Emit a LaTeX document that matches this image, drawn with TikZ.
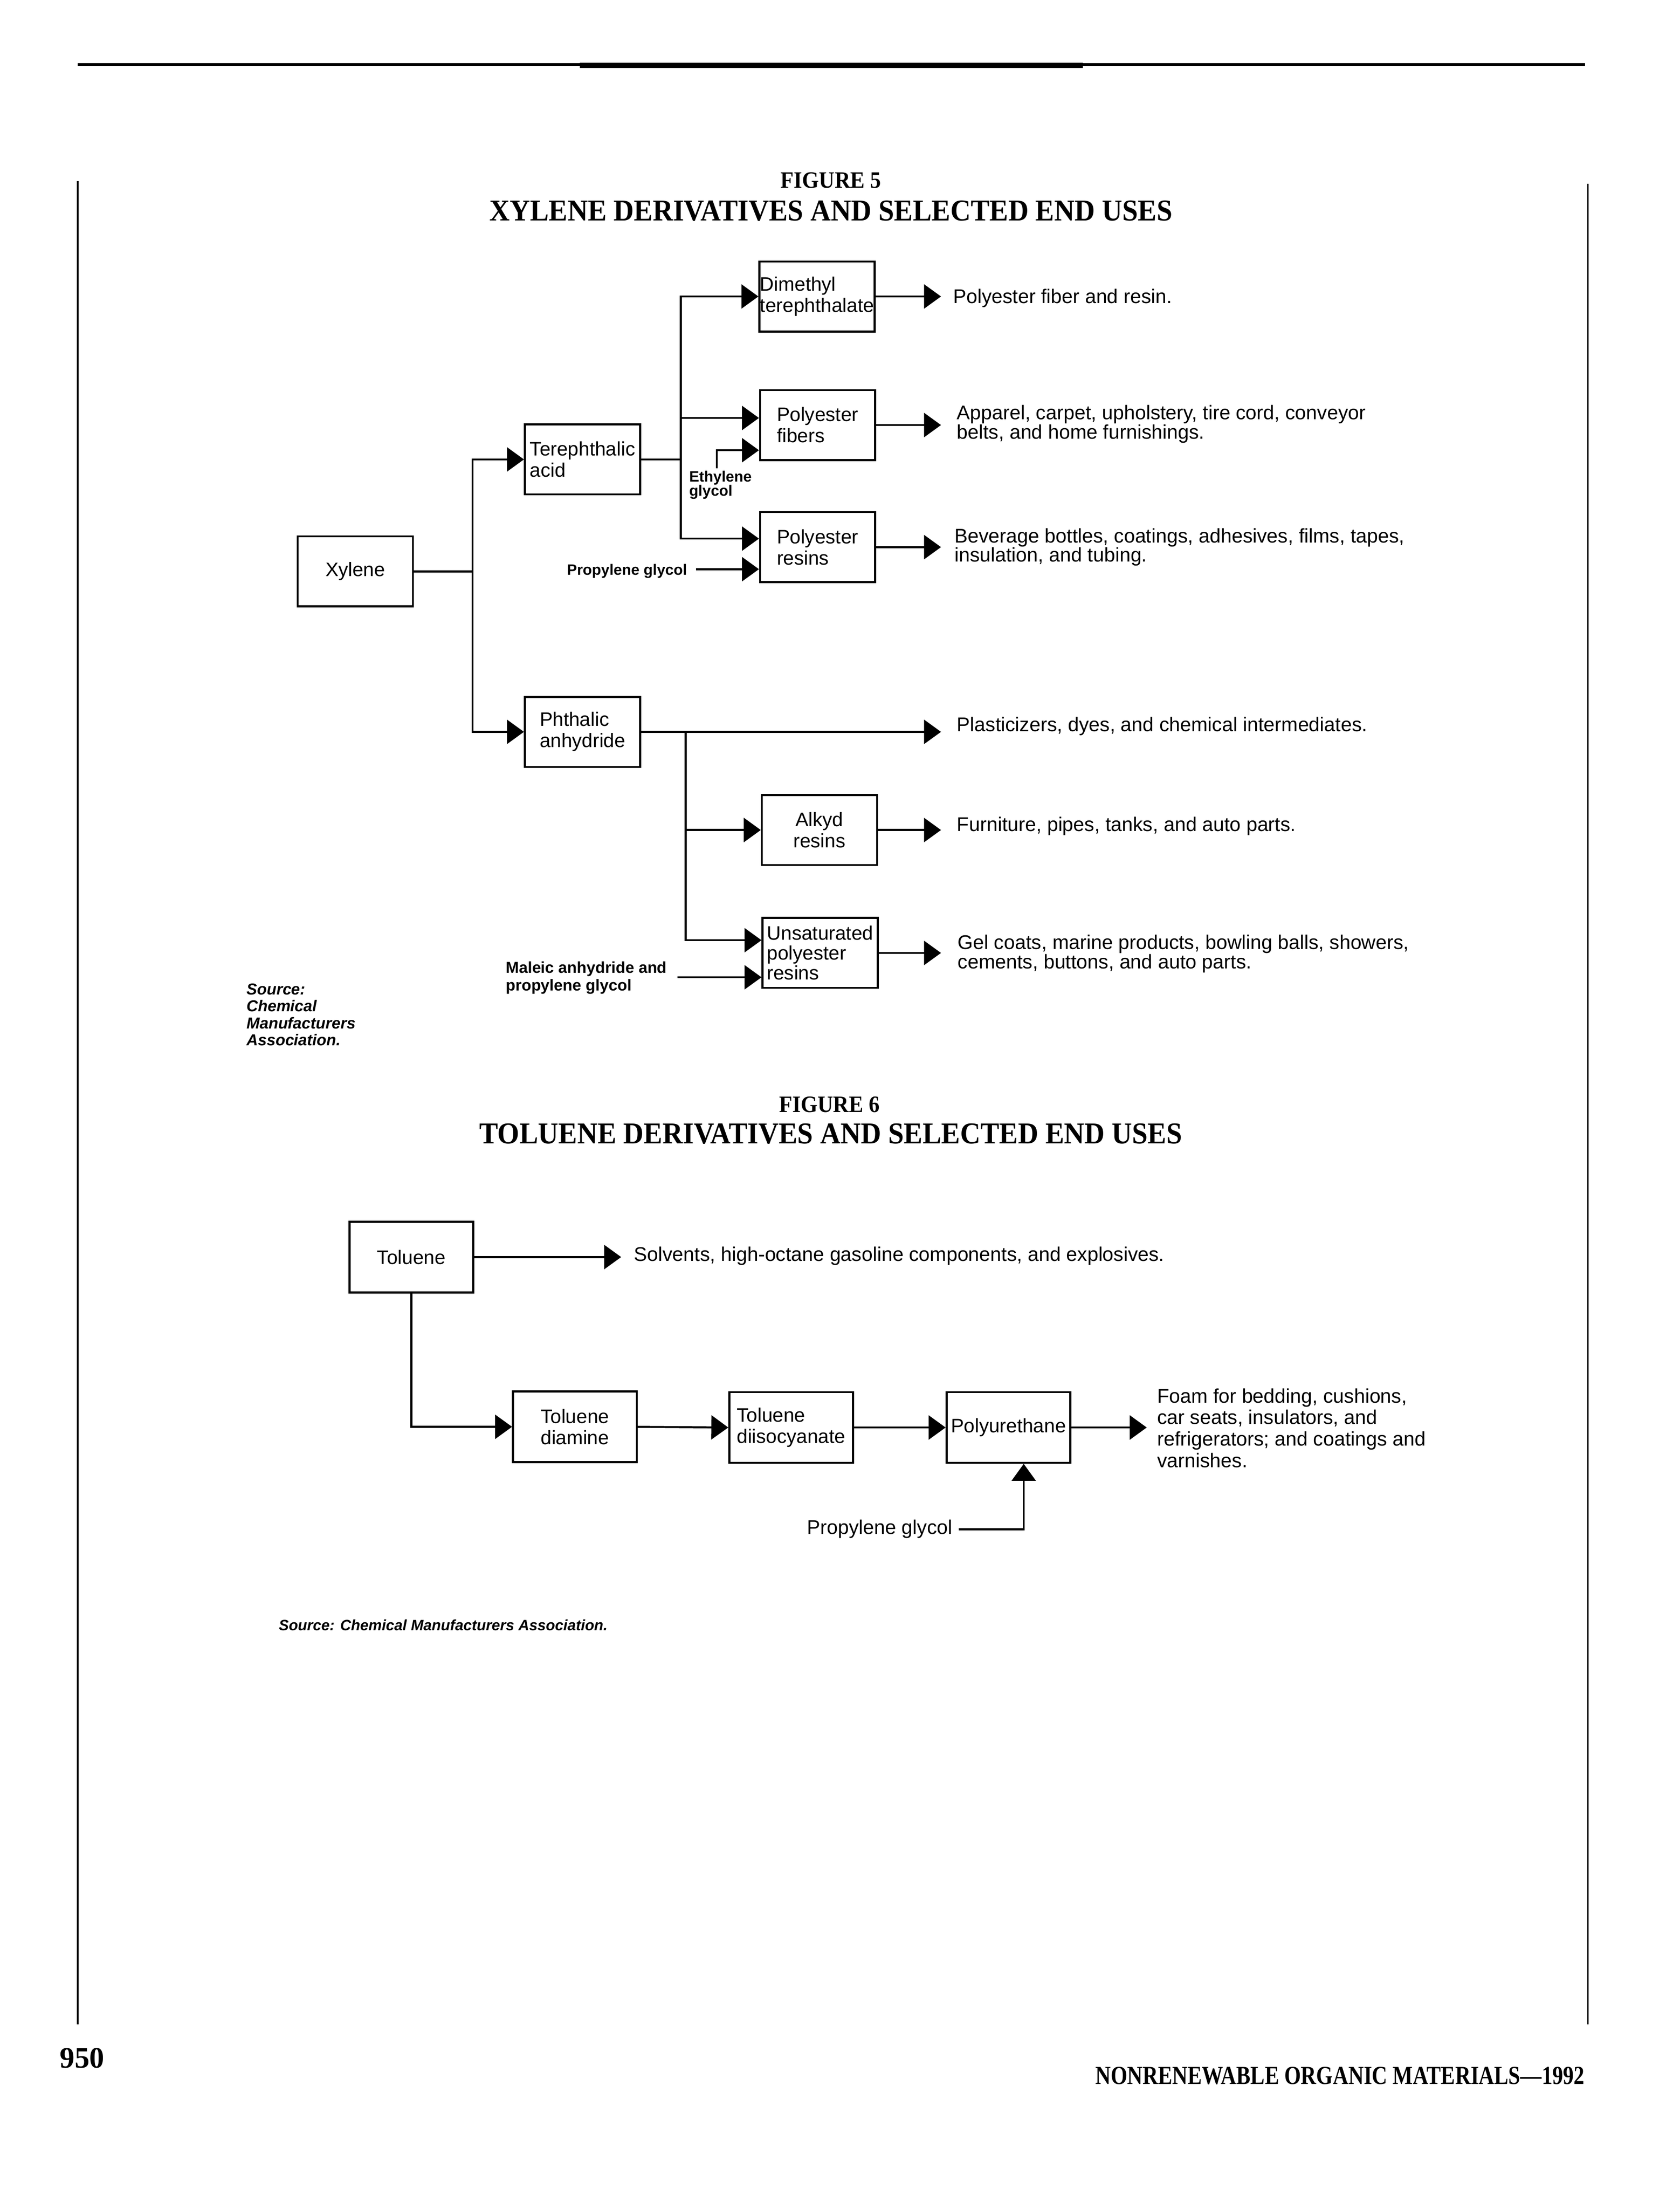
\documentclass[tikz,border=0pt]{standalone}
\usepackage{fontspec}
\setmainfont{Liberation Sans}
\newfontfamily\serifbf{Liberation Serif}
\usepackage{graphicx}
\usetikzlibrary{arrows.meta,calc}
\tikzset{
  box/.style={draw, line width=0.7pt, minimum width=40.75pt, minimum height=24.75pt,
    inner sep=0pt, font=\fontsize{6.9}{7.5}\selectfont, align=left},
  box6/.style={box, minimum width=43.75pt, minimum height=25pt},
  conn/.style={line width=0.7pt},
  arr/.style={conn, -{Triangle[length=6pt,width=8.5pt]}},
  use/.style={anchor=base west, inner sep=0pt, font=\fontsize{7}{6.8}\selectfont, align=left},
  lab/.style={anchor=base west, inner sep=0pt, font=\bfseries\fontsize{5.3}{5}\selectfont, align=left},
  src/.style={anchor=base west, inner sep=0pt, font=\bfseries\itshape\fontsize{5.6}{6}\selectfont, align=left},
  ttlsmall/.style={anchor=base, inner sep=0pt, font=\serifbf\bfseries\fontsize{8.3}{9}\selectfont},
  ttlbig/.style={anchor=base, inner sep=0pt, font=\serifbf\bfseries\fontsize{10.7}{12}\selectfont},
  rule/.style={line width=0.6pt}
}
\begin{document}
\begin{tikzpicture}[x=0.5pt,y=-0.5pt]
\useasboundingbox (0,0) rectangle (1188,1561.7);
% page frame
\draw[line width=0.95pt] (55,45.5) -- (1121,45.5);
\draw[line width=1.75pt] (410,46.2) -- (766,46.2);
\draw[rule] (55,128) -- (55,1431);
\draw[rule] (1123,130) -- (1123,1431);
\node[anchor=base west, inner sep=0pt, font=\serifbf\bfseries\fontsize{10.5}{12}\selectfont] (pgnum) at (42,1462) {950};
\node[anchor=base east, inner sep=0pt, font=\serifbf\bfseries\fontsize{9.2}{10}\selectfont] (journal) at (1121,1473.6) {\scalebox{0.82}[1]{NONRENEWABLE ORGANIC MATERIALS\textemdash 1992}};

% ---------------- Figure 5 ----------------
\node[ttlsmall] (f5a) at (587.6,132.9) {\scalebox{0.92}[1]{FIGURE 5}};
\node[ttlbig] (f5b) at (587.7,156.1) {\scalebox{0.93}[1]{XYLENE DERIVATIVES AND SELECTED END USES}};

\node[box] (xyl) at (251.3,404) {Xylene};
\node[box] (ter) at (412,324.8) {Terephthalic\\acid};
\node[box] (dmt) at (577.8,209.6) {Dimethyl\\terephthalate};
\node[box] (pfib) at (578.2,300.5) {Polyester\\fibers};
\node[box] (pres) at (578.2,386.8) {Polyester\\resins};
\node[box] (pht) at (412,517.4) {Phthalic\\anhydride};
\node[box, align=center] (alk) at (579.5,586.8) {Alkyd\\resins};
\node[box, font=\fontsize{6.9}{7}\selectfont] (ups) at (580,673.7) {Unsaturated\\polyester\\resins};

% multi-line text nodes: base anchor = baseline of last line
\node[use] (u1) at (673.7,214.3) {Polyester fiber and resin.};
\node[use] (u2) at (676.3,310.3) {Apparel, carpet, upholstery, tire cord, conveyor\\belts, and home furnishings.};
\node[use] (u3) at (674.7,397.2) {Beverage bottles, coatings, adhesives, films, tapes,\\insulation, and tubing.};
\node[use] (u4) at (676.4,517) {Plasticizers, dyes, and chemical intermediates.};
\node[use] (u5) at (676.4,587.8) {Furniture, pipes, tanks, and auto parts.};
\node[use] (u6) at (677,684.8) {Gel coats, marine products, bowling balls, showers,\\cements, buttons, and auto parts.};

\node[lab] (pg5) at (400.6,406.4) {Propylene glycol};
\node[lab] (eg) at (487,350.7) {Ethylene\\glycol};
\node[lab, font=\bfseries\fontsize{5.6}{5}\selectfont] (mal) at (357.3,700.4) {Maleic anhydride and\\propylene glycol};
\node[src] (src5) at (174,739.2) {Source:\\Chemical\\Manufacturers\\Association.};

\coordinate (tip5) at (665.5,0);
\coordinate (egl) at (507,331);
\coordinate (malin) at ([yshift=-8.6pt]ups.west);

\draw[arr] (xyl.east) -- ++(41.4,0) |- (ter.west);
\draw[arr] (xyl.east) -- ++(41.4,0) |- (pht.west);
\draw[arr] (ter.east) -- ++(28,0) |- (dmt.west);
\draw[arr] (ter.east) -- ++(28,0) |- ([yshift=2.5pt]pfib.west);
\draw[arr] (ter.east) -- ++(28,0) |- ([yshift=3pt]pres.west);
\draw[arr] (egl) |- ([yshift=-8.9pt]pfib.west);
\draw[arr] ([xshift=3pt,yshift=2pt]pg5.base east) -- ([yshift=-7.8pt]pres.west);

\draw[arr] (dmt.east) -- (dmt.east -| tip5);
\draw[arr] (pfib.east) -- (pfib.east -| tip5);
\draw[arr] (pres.east) -- (pres.east -| tip5);
\draw[arr] (pht.east) -- (pht.east -| tip5);
\draw[arr] ([xshift=15.75pt]pht.east) |- (alk.west);
\draw[arr] ([xshift=15.75pt]pht.east) |- ([yshift=4.5pt]ups.west);
\draw[arr] ($(mal.east |- malin)+(7,0)$) -- (malin);
\draw[arr] (alk.east) -- (alk.east -| tip5);
\draw[arr] (ups.east) -- (ups.east -| tip5);

% ---------------- Figure 6 ----------------
\node[ttlsmall] (f6a) at (586.6,786.2) {\scalebox{0.92}[1]{FIGURE 6}};
\node[ttlbig] (f6b) at (587.6,808.6) {\scalebox{0.93}[1]{TOLUENE DERIVATIVES AND SELECTED END USES}};

\node[box6] (tol) at (290.9,888.7) {Toluene};
\node[box6, align=center] (tda) at (406.6,1008.7) {Toluene\\diamine};
\node[box6] (tdi) at (559.5,1009.2) {Toluene\\diisocyanate};
\node[box6] (pu) at (713.2,1009.2) {Polyurethane};

\node[use] (solv) at (448,891.7) {Solvents, high-octane gasoline components, and explosives.};
\node[use, font=\fontsize{7}{7.6}\selectfont] (foam) at (818,1037.3) {Foam for bedding, cushions,\\car seats, insulators, and\\refrigerators; and coatings and\\varnishes.};
\node[anchor=base east, inner sep=0pt, font=\fontsize{7}{8}\selectfont] (pg6) at (674,1084.5) {Propylene glycol};
\node[src, font=\bfseries\itshape\fontsize{5.3}{6}\selectfont] (src6) at (196.8,1152.6) {Source: Chemical Manufacturers Association.};

\coordinate (tip6a) at (439.3,0);
\coordinate (tip6b) at (811,0);
\draw[arr] (tol.east) -- (tol.east -| tip6a);
\draw[arr] (tol.south) |- (tda.west);
\draw[arr] (tda.east) -- (tdi.west);
\draw[arr] (tdi.east) -- (pu.west);
\draw[arr] (pu.east) -- (pu.east -| tip6b);
\draw[arr] ($(pg6.base east)+(4,-3.3)$) -| ([xshift=5.4pt]pu.south);
\end{tikzpicture}
\end{document}
